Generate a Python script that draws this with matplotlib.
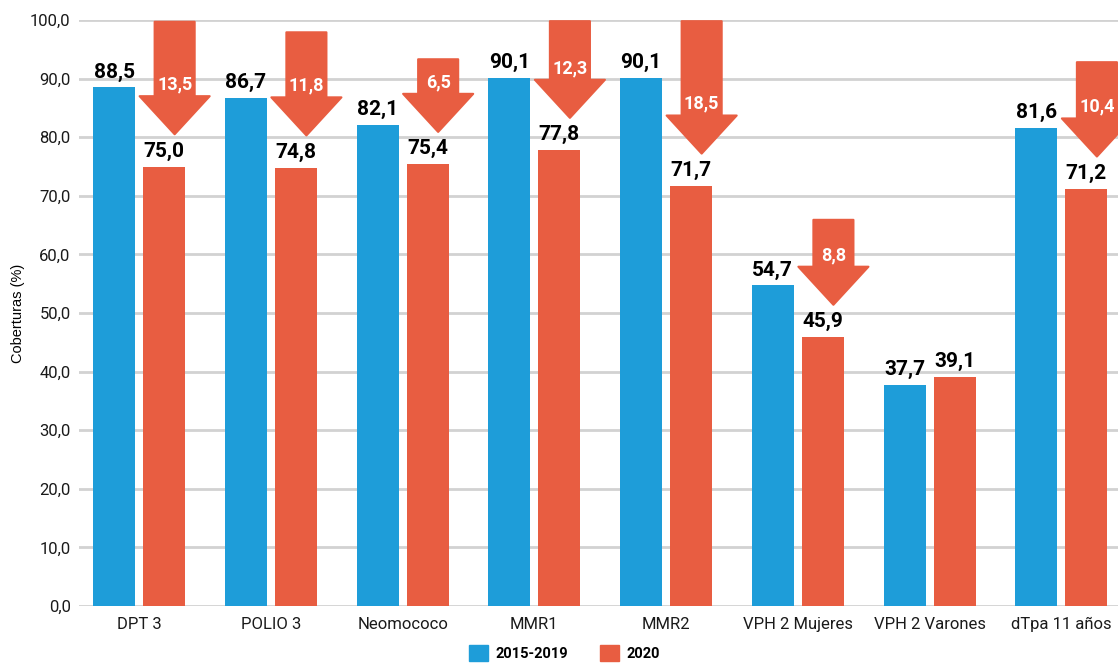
import matplotlib
matplotlib.use("Agg")
import matplotlib.pyplot as plt
from matplotlib.patches import Polygon, Patch
import numpy as np

# ---------------- data ----------------
categories = ["DPT 3", "POLIO 3", "Neomococo", "MMR1", "MMR2",
              "VPH 2 Mujeres", "VPH 2 Varones", "dTpa 11 años"]
cov_2015_2019 = [88.5, 86.7, 82.1, 90.1, 90.1, 54.7, 37.7, 81.6]
cov_2020 = [75.0, 74.8, 75.4, 77.8, 71.7, 45.9, 39.1, 71.2]
drops = [13.5, 11.8, 6.5, 12.3, 18.5, 8.8, None, 10.4]
series_names = ["2015-2019", "2020"]
y_ticks = [0, 10, 20, 30, 40, 50, 60, 70, 80, 90, 100]

# ---------------- style ----------------
BLUE = "#1e9dd9"
RED = "#e85d41"
GRID = "#d2d2d2"
TXT = "#1a1a1a"
plt.rcParams["font.family"] = ["Roboto", "DejaVu Sans"]

def fmt(v):
    return f"{v:.1f}".replace(".", ",")

fig = plt.figure(figsize=(11.18, 6.66), dpi=100)
ax = fig.add_axes([79 / 1118, 60 / 666, 1 - 79 / 1118, 586 / 666])

x = np.arange(len(categories))
bw = 0.319
off = 0.19
ax.bar(x - off, cov_2015_2019, bw, color=BLUE, zorder=3, label=series_names[0])
ax.bar(x + off, cov_2020, bw, color=RED, zorder=3, label=series_names[1])

for xi, v in zip(x, cov_2015_2019):
    ax.text(xi - off, v + 1.0, fmt(v), ha="center", va="bottom",
            fontsize=15, fontweight="bold", color="black", zorder=5)
for xi, v in zip(x, cov_2020):
    ax.text(xi + off, v + 1.0, fmt(v), ha="center", va="bottom",
            fontsize=15, fontweight="bold", color="black", zorder=5)

# drop arrows
shaft_hw = 0.152
head_hw = 0.266
head_h = 6.5
arrow_dx = 0.08
for xi, b, r, d in zip(x, cov_2015_2019, cov_2020, drops):
    if d is None:
        continue
    cx = xi + off + arrow_dx
    tip = r + 5.5
    base = tip + head_h
    top = min(b + 11.2, 99.8)
    pts = [(cx - shaft_hw, top), (cx + shaft_hw, top), (cx + shaft_hw, base),
           (cx + head_hw, base), (cx, tip), (cx - head_hw, base),
           (cx - shaft_hw, base)]
    ax.add_patch(Polygon(pts, closed=True, facecolor=RED, edgecolor=RED,
                         linewidth=1.5, joinstyle="round", zorder=4,
                         clip_on=False))
    ax.text(cx, base + 2.0, fmt(d), ha="center", va="center", fontsize=13,
            fontweight="bold", color="white", zorder=6)

ax.set_xlim(-0.456, 7.43)
ax.set_ylim(0, 100)
ax.set_yticks(y_ticks)
ax.set_yticklabels([fmt(t) for t in y_ticks], fontsize=12, color=TXT)
ax.set_xticks(x)
ax.set_xticklabels(categories, fontsize=12, color=TXT)
ax.tick_params(axis="both", length=0)
ax.tick_params(axis="y", pad=6)
ax.tick_params(axis="x", pad=8)
ax.grid(axis="y", color=GRID, linewidth=2, zorder=0)
ax.set_axisbelow(True)
for s in ax.spines.values():
    s.set_visible(False)

fig.text(18 / 1118, 1 - 313 / 666, "Coberturas (%)", rotation=90,
         ha="center", va="center", fontsize=10.5, color="black",
         family=["Liberation Sans", "DejaVu Sans"])

handles = [Patch(color=BLUE), Patch(color=RED)]
fig.legend(handles, series_names, loc="lower center", bbox_to_anchor=(0.505, -0.012),
           ncol=2, frameon=False, handlelength=1.3, handleheight=1.3,
           columnspacing=2.2, handletextpad=0.5,
           prop={"weight": "bold", "size": 10.5})

fig.savefig("out.png", dpi=100)
